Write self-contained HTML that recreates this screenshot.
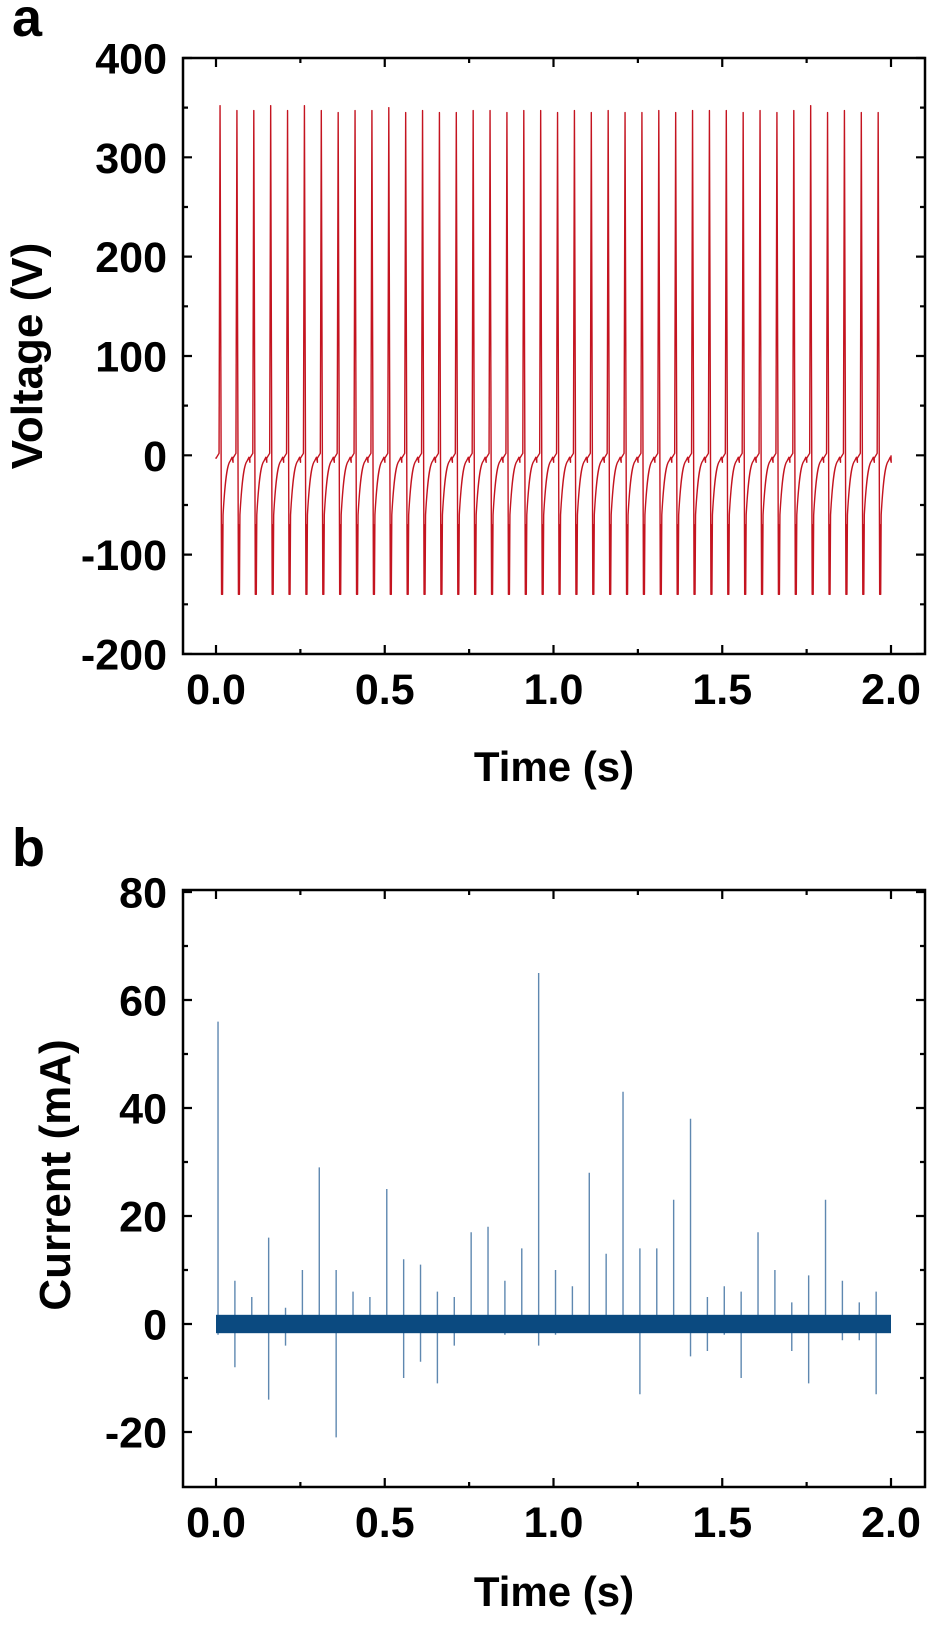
<!DOCTYPE html>
<html><head><meta charset="utf-8"><style>
html,body{margin:0;padding:0;background:#fff}
svg text{font-family:"Liberation Sans",Arial,sans-serif;font-weight:bold;fill:#000}
</style></head><body>
<svg id="s" width="945" height="1621" viewBox="0 0 945 1621" xmlns="http://www.w3.org/2000/svg">
<text x="12" y="36" font-size="54">a</text>
<text x="12" y="866" font-size="54">b</text>
<g id="ga"></g><g id="gb"></g>
<text x="554" y="781" font-size="42" text-anchor="middle">Time (s)</text>
<text x="554" y="1606" font-size="42" text-anchor="middle">Time (s)</text>
<text transform="translate(42,356) rotate(-90)" font-size="44" text-anchor="middle">Voltage (V)</text>
<text transform="translate(70,1175) rotate(-90)" font-size="44" text-anchor="middle">Current (mA)</text>
</svg>
<script>
var NS="http://www.w3.org/2000/svg";
function el(p,t,a,txt){var e=document.createElementNS(NS,t);for(var k in a)e.setAttribute(k,a[k]);if(txt!==undefined)e.textContent=txt;p.appendChild(e);return e;}
function X(t){return 216+337.5*t;}
function axes(g,top,bot,Yf,majors,minors){
  var L=183,R=925;
  var d="";
  [0,0.5,1,1.5,2].forEach(function(t){var x=X(t);d+="M"+x+" "+bot+"v-9M"+x+" "+top+"v9";});
  [0.25,0.75,1.25,1.75].forEach(function(t){var x=X(t);d+="M"+x+" "+bot+"v-5M"+x+" "+top+"v5";});
  majors.forEach(function(v){var y=Yf(v);d+="M"+L+" "+y+"h9M"+R+" "+y+"h-9";});
  minors.forEach(function(v){var y=Yf(v);d+="M"+L+" "+y+"h5M"+R+" "+y+"h-5";});
  el(g,"path",{d:d,stroke:"#000","stroke-width":2.2,fill:"none"});
  el(g,"rect",{x:L,y:top,width:R-L,height:bot-top,fill:"none",stroke:"#000","stroke-width":2.5});
  majors.forEach(function(v){el(g,"text",{x:167,y:Yf(v)+15.5,"font-size":43,"text-anchor":"end"},String(v));});
  ["0.0","0.5","1.0","1.5","2.0"].forEach(function(s,i){el(g,"text",{x:X(i*0.5),y:bot+50,"font-size":43,"text-anchor":"middle"},s);});
}
var ga=document.getElementById("ga");
function Ya(v){return 455.3-0.9933*v;}
var peaks=[352,347,347,352,347,352,347,345,347,347,350,345,347,345,345,347,347,345,347,347,345,347,345,347,345,345,347,345,347,347,347,345,347,345,347,352,345,347,345,345];
var d="M"+X(0)+" "+Ya(-2);
for(var k=0;k<40;k++){
  var t0=0.012+0.05*k, x=X(t0);
  d+="L"+(x-4)+" "+Ya(-3)+"L"+(x-1)+" "+Ya(2)+"L"+x+" "+Ya(peaks[k])+"L"+(x+1.5)+" "+Ya(-140)+"L"+(x+2)+" "+Ya(-70)+"L"+(x+2.5)+" "+Ya(-140)+"L"+(x+3)+" "+Ya(-60);
  d+="C"+(x+5)+" "+Ya(-25)+" "+(x+7)+" "+Ya(-10)+" "+(x+10)+" "+Ya(-6)+"L"+(x+12)+" "+Ya(-2)+"L"+(x+13)+" "+Ya(-7);
}
d+="L"+X(2)+" "+Ya(0);
el(ga,"path",{d:d,stroke:"#c41420","stroke-width":1.4,fill:"none","stroke-linejoin":"round"});
axes(ga,58,654,Ya,[400,300,200,100,0,-100,-200],[350,250,150,50,-50,-150]);
var gb=document.getElementById("gb");
function Yb(v){return 1324-5.4*v;}
var sp=[[56,-2],[8,-8],[5,-1],[16,-14],[3,-4],[10,-1],[29,-1],[10,-21],[6,-1],[5,-1],[25,-1],[12,-10],[11,-7],[6,-11],[5,-4],[17,-1],[18,-1],[8,-2],[14,-1],[65,-4],[10,-2],[7,-1],[28,-1],[13,-1],[43,-1],[14,-13],[14,-1],[23,-1],[38,-6],[5,-5],[7,-2],[6,-10],[17,-1],[10,-1],[4,-5],[9,-11],[23,-1],[8,-3],[4,-3],[6,-13]];
var d2="";
sp.forEach(function(s,k){var x=X(0.006+0.05*k);d2+="M"+x+" "+Yb(s[0])+"V"+Yb(s[1]);});
el(gb,"path",{d:d2,stroke:"#5f88b0","stroke-width":1.4,fill:"none"});
el(gb,"rect",{x:X(0),y:Yb(1.7),width:X(2)-X(0),height:Yb(-1.7)-Yb(1.7),fill:"#0b4a80"});
axes(gb,890,1487,Yb,[80,60,40,20,0,-20],[70,50,30,10,-10]);
</script>
</body></html>
